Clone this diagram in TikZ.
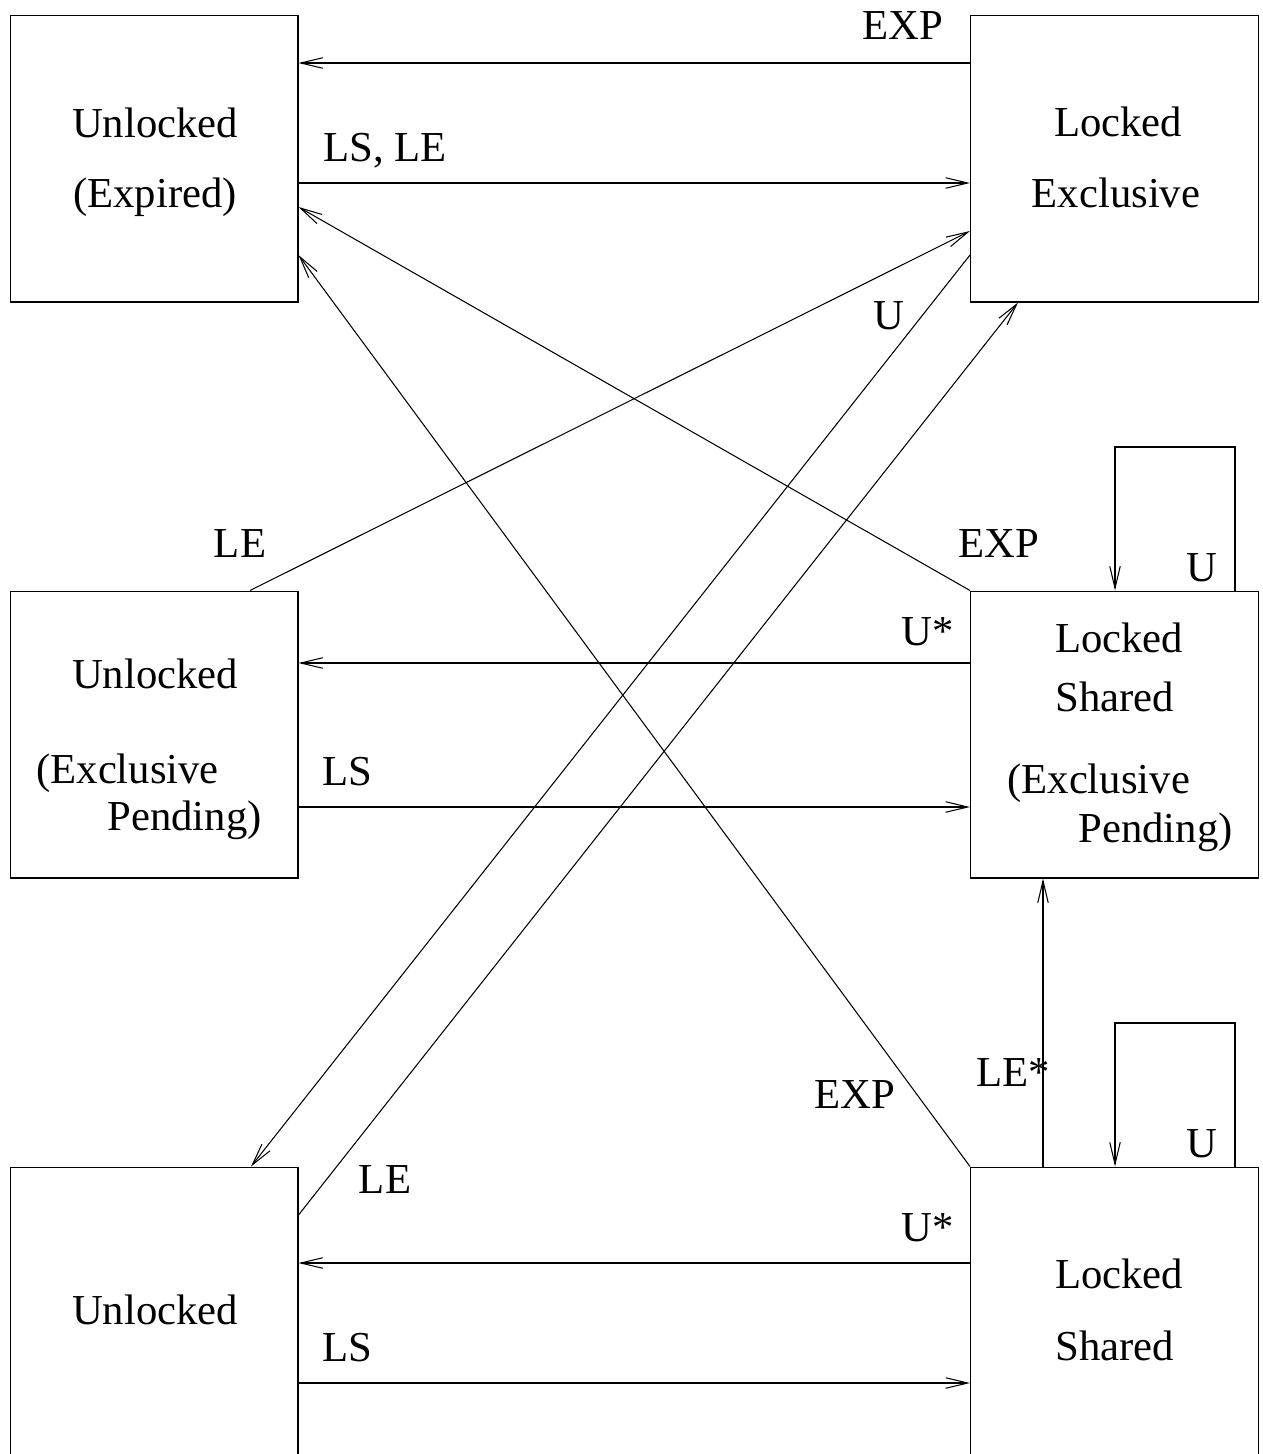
\documentclass[tikz,border=0pt]{standalone}
\usepackage{fontspec}
\setmainfont{Liberation Serif}
\usetikzlibrary{arrows.meta}
\begin{document}
\begin{tikzpicture}[x=0.02cm,y=-0.02cm,
  box/.style={draw,line width=0.6pt,rectangle,inner sep=0pt,minimum width=5.76cm,minimum height=5.74cm},
  lowbox/.style={box,minimum height=6.2cm},
  lbl/.style={inner sep=0pt,anchor=base,font=\fontsize{24.3}{28}\selectfont},
  conn/.style={line width=0.6pt,-{Straight Barb[length=0.44cm,width=0.21cm,line width=0.6pt]}},
  plain/.style={line width=0.6pt}]
\useasboundingbox (0,0) rectangle (1262,1454);
\clip (0,0) rectangle (1262,1454);
% boxes
\node[box] (A) at (154,158.5) {};
\node[box] (B) at (1114.5,158.5) {};
\node[box] (C) at (154,734.5) {};
\node[box] (D) at (1114.5,734.5) {};
\node[lowbox] (E) at (154,1322) {};
\node[lowbox] (F) at (1114.5,1322) {};
% box texts
\node[lbl] (tA1) at (155,137) {Unlocked};
\node[lbl] (tA2) at (155,207) {(Expired)};
\node[lbl] (tB1) at (1118,136) {Locked};
\node[lbl] (tB2) at (1116,207) {Exclusive};
\node[lbl] (tC1) at (155,688) {Unlocked};
\node[lbl,anchor=base west] (tC2) at (36,783) {(Exclusive};
\node[lbl,anchor=base east] (tC3) at (262,830) {Pending)};
\node[lbl] (tD1) at (1119,652) {Locked};
\node[lbl] (tD2) at (1115,711) {Shared};
\node[lbl,anchor=base west] (tD3) at (1007,793) {(Exclusive};
\node[lbl,anchor=base east] (tD4) at (1233,842) {Pending)};
\node[lbl] (tE1) at (155,1324) {Unlocked};
\node[lbl] (tF1) at (1119,1288) {Locked};
\node[lbl] (tF2) at (1115,1360) {Shared};
% horizontal connectors
\draw[conn] (B.west |- 0,63) -- (A.east |- 0,63);
\draw[conn] (A.east |- 0,183) -- (B.west |- 0,183);
\draw[conn] (D.west |- 0,663) -- (C.east |- 0,663);
\draw[conn] (C.east |- 0,807) -- (D.west |- 0,807);
\draw[conn] (F.west |- 0,1263) -- (E.east |- 0,1263);
\draw[conn] (E.east |- 0,1383) -- (F.west |- 0,1383);
% vertical
\draw[conn] (F.north -| 1043,0) -- (D.south -| 1043,0);
% diagonals
\draw[conn] (D.north west) -- (A.east |- 0,207);
\draw[conn] (F.north west) -- (A.east |- 0,255);
\draw[conn] (C.north -| 250,0) -- (B.west |- 0,231);
\draw[conn] (B.west |- 0,255) -- (E.north -| 251,0);
\draw[conn] (E.east |- 0,1215) -- (B.south -| 1018,0);
% self loops
\draw[conn] (D.north -| 1235,0) -- (1235,447) -- (1115,447) -- (D.north -| 1115,0);
\draw[conn] (F.north -| 1235,0) -- (1235,1023) -- (1115,1023) -- (F.north -| 1115,0);
% connector labels
\node[lbl] (l1) at (903,39) {EXP};
\node[lbl] (l2) at (385,161) {LS, LE};
\node[lbl] (l3) at (889,329) {U};
\node[lbl] (l4) at (240,557) {LE};
\node[lbl] (l5) at (999,557) {EXP};
\node[lbl] (l6) at (1202,581) {U};
\node[lbl] (l7) at (928,645) {U*};
\node[lbl] (l8) at (347,785) {LS};
\node[lbl] (l9) at (1013,1086) {LE*};
\node[lbl] (l10) at (855,1108) {EXP};
\node[lbl] (l11) at (385,1193) {LE};
\node[lbl] (l12) at (1202,1157) {U};
\node[lbl] (l13) at (928,1241) {U*};
\node[lbl] (l14) at (347,1361) {LS};
\end{tikzpicture}
\end{document}
